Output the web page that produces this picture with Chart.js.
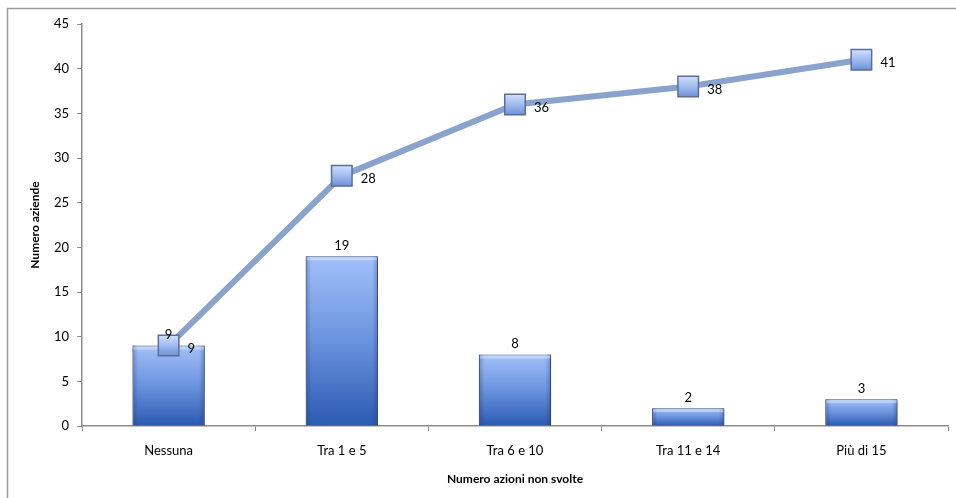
<!DOCTYPE html>
<html>
<head>
<meta charset="utf-8">
<script src="https://cdn.jsdelivr.net/npm/chart.js@4/dist/chart.umd.min.js"></script>
<style>
  html, body { margin: 0; padding: 0; background: #fff; }
  canvas { display: block; }
</style>
</head>
<body>
<canvas id="azioniChart" width="956" height="498"></canvas>
<script>
// categorie e valori
const categorie = ["Nessuna", "Tra 1 e 5", "Tra 6 e 10", "Tra 11 e 14", "Più di 15"];
const aziende = [9, 19, 8, 2, 3];
const cumulato = [9, 28, 36, 38, 41];
const yTicks = [0, 5, 10, 15, 20, 25, 30, 35, 40, 45];

const FONT = "Lato, 'Open Sans', sans-serif";

// gradiente verticale per ogni barra (chiaro in alto, scuro in basso)
function barGradient(ctx) {
  const chart = ctx.chart;
  if (!chart.chartArea || ctx.dataIndex === undefined) return "#4f7cc8";
  const y = chart.scales.y;
  const top = y.getPixelForValue(ctx.raw);
  const bottom = y.getPixelForValue(0);
  const g = chart.ctx.createLinearGradient(0, top, 0, bottom);
  g.addColorStop(0, "#a2c0fa");
  g.addColorStop(0.5, "#6a93de");
  g.addColorStop(1, "#2b5ab2");
  return g;
}

// gradiente per i quadratini della linea
function pointGradient(ctx) {
  const chart = ctx.chart;
  if (!chart.chartArea || ctx.dataIndex === undefined) return "#9db8ec";
  const cy = chart.scales.y.getPixelForValue(ctx.raw);
  const g = chart.ctx.createLinearGradient(0, cy - 10, 0, cy + 10);
  g.addColorStop(0, "#d2e0fb");
  g.addColorStop(0.45, "#a4bff2");
  g.addColorStop(1, "#6f91d6");
  return g;
}

// ombra sotto le barre e rifiniture laterali
const barShading = {
  id: "barShading",
  beforeDatasetDraw(chart, args) {
    if (args.meta.type !== "bar") return;
    const ctx = chart.ctx;
    ctx.save();
    ctx.shadowColor = "rgba(0,0,0,0.35)";
    ctx.shadowBlur = 3;
    ctx.shadowOffsetX = 2;
    ctx.shadowOffsetY = 2;
  },
  afterDatasetDraw(chart, args) {
    if (args.meta.type !== "bar") return;
    const ctx = chart.ctx;
    ctx.restore();
    args.meta.data.forEach((bar) => {
      const left = bar.x - bar.width / 2;
      const right = bar.x + bar.width / 2;
      const top = bar.y;
      const bottom = bar.base;
      const g = ctx.createLinearGradient(left, 0, right, 0);
      g.addColorStop(0, "rgba(20,40,90,0.30)");
      g.addColorStop(0.08, "rgba(20,40,90,0)");
      g.addColorStop(0.92, "rgba(20,40,90,0)");
      g.addColorStop(1, "rgba(20,40,90,0.30)");
      ctx.save();
      ctx.fillStyle = g;
      ctx.fillRect(left, top, right - left, bottom - top);
      ctx.fillStyle = "rgba(255,255,255,0.35)";
      ctx.fillRect(left + 1, top + 1, right - left - 2, 3);
      ctx.restore();
    });
  }
};

// etichette dei valori
const valueLabels = {
  id: "valueLabels",
  afterDatasetsDraw(chart) {
    const ctx = chart.ctx;
    ctx.save();
    ctx.font = "13px " + FONT;
    ctx.fillStyle = "#000";
    chart.data.datasets.forEach((ds, i) => {
      const meta = chart.getDatasetMeta(i);
      meta.data.forEach((el, j) => {
        if (meta.type === "bar") {
          ctx.textAlign = "center";
          ctx.textBaseline = "bottom";
          ctx.fillText(ds.data[j], el.x, el.y - 4);
        } else {
          ctx.textAlign = "left";
          ctx.textBaseline = "middle";
          ctx.fillText(ds.data[j], el.x + 19, el.y + 3);
        }
      });
    });
    ctx.restore();
  }
};

// cornice grigia esterna
const frame = {
  id: "frame",
  afterDraw(chart) {
    const ctx = chart.ctx;
    ctx.save();
    ctx.strokeStyle = "#9a9a9a";
    ctx.lineWidth = 1.5;
    ctx.beginPath();
    ctx.moveTo(7.5, chart.height);
    ctx.lineTo(7.5, 8.5);
    ctx.lineTo(chart.width, 8.5);
    ctx.stroke();
    ctx.restore();
  }
};

new Chart(document.getElementById("azioniChart"), {
  data: {
    labels: categorie,
    datasets: [
      {
        type: "line",
        label: "Cumulato",
        data: cumulato,
        order: 0,
        borderColor: "#8aa3cd",
        borderWidth: 6,
        tension: 0,
        pointStyle: "rect",
        pointRadius: 14.5,
        pointHoverRadius: 14.5,
        pointBackgroundColor: pointGradient,
        pointBorderColor: "#5b6f96",
        pointBorderWidth: 1.5
      },
      {
        type: "bar",
        label: "Aziende",
        data: aziende,
        order: 1,
        backgroundColor: barGradient,
        borderColor: "#34558f",
        borderWidth: 1,
        categoryPercentage: 1,
        barPercentage: 0.417
      }
    ]
  },
  options: {
    responsive: false,
    animation: false,
    layout: { autoPadding: false, padding: { left: 8, top: 24, right: 8, bottom: 0 } },
    plugins: {
      legend: { display: false },
      tooltip: { enabled: false }
    },
    scales: {
      x: {
        afterFit(scale) { scale.height = 72; },
        grid: {
          display: true,
          offset: true,
          drawOnChartArea: false,
          drawTicks: true,
          tickLength: 5,
          color: "#8c8c8c"
        },
        border: { display: true, color: "#8c8c8c", width: 1.5 },
        ticks: {
          color: "#000",
          padding: 12,
          font: { family: FONT, size: 13 }
        },
        title: {
          display: true,
          text: "Numero azioni non svolte",
          color: "#000",
          padding: { top: 0, bottom: 12 },
          font: { family: FONT, size: 12, weight: "bold" }
        }
      },
      y: {
        min: 0,
        max: 45,
        afterFit(scale) { scale.width = 74; },
        afterBuildTicks(scale) {
          scale.ticks = yTicks.map((v) => ({ value: v }));
        },
        grid: {
          display: true,
          drawOnChartArea: false,
          drawTicks: true,
          tickLength: 5,
          color: "#8c8c8c"
        },
        border: { display: true, color: "#8c8c8c", width: 1.5 },
        ticks: {
          color: "#000",
          padding: 8,
          font: { family: FONT, size: 13 }
        },
        title: {
          display: true,
          text: "Numero aziende",
          color: "#000",
          padding: { top: 20, bottom: 0 },
          font: { family: FONT, size: 12, weight: "bold" }
        }
      }
    }
  },
  plugins: [barShading, valueLabels, frame]
});
</script>
</body>
</html>
